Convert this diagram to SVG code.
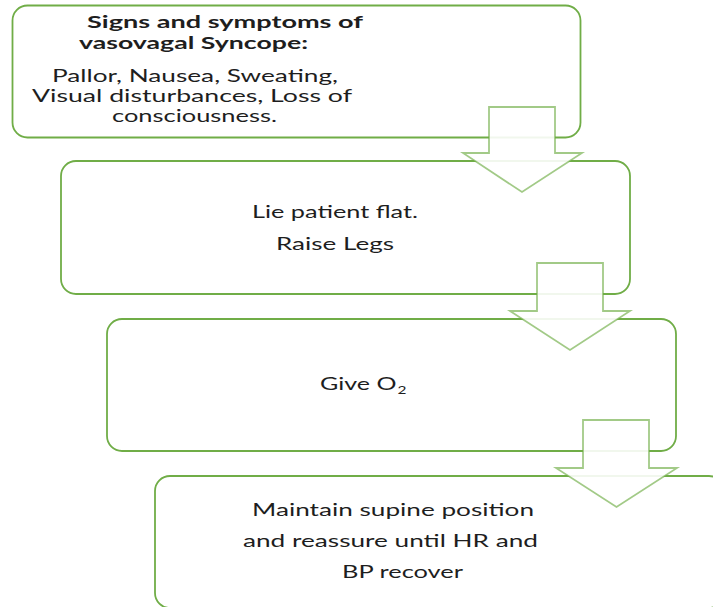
<svg xmlns="http://www.w3.org/2000/svg" width="713" height="607" viewBox="0 0 713 607">
<style>
.box{fill:#ffffff;stroke:#70ad47;stroke-width:1.8}
.arr{fill:#ffffff;fill-opacity:0.9;stroke:#70ad47;stroke-opacity:0.65;stroke-width:1.8;stroke-linejoin:miter}
text{font-family:Lato,"Open Sans","Liberation Sans",sans-serif;font-size:17px;fill:#1e1e1e}
.b{font-weight:bold}
</style>
<rect width="713" height="607" fill="#ffffff"/>
<g id="node1">
<rect class="box" x="12.5" y="5.5" width="568" height="132" rx="15"/>
<text class="b" x="87" y="28" textLength="276" lengthAdjust="spacingAndGlyphs">Signs and symptoms of</text>
<text class="b" x="79" y="49" textLength="229" lengthAdjust="spacingAndGlyphs">vasovagal Syncope:</text>
<text x="52" y="82" textLength="286" lengthAdjust="spacingAndGlyphs">Pallor, Nausea, Sweating,</text>
<text x="32" y="102" textLength="320" lengthAdjust="spacingAndGlyphs">Visual disturbances, Loss of</text>
<text x="112" y="122" textLength="165" lengthAdjust="spacingAndGlyphs">consciousness.</text>
</g>
<g id="node2">
<rect class="box" x="61" y="161" width="569" height="133" rx="15"/>
<text x="252" y="218" textLength="166" lengthAdjust="spacingAndGlyphs">Lie patient flat.</text>
<text x="276" y="250" textLength="118" lengthAdjust="spacingAndGlyphs">Raise Legs</text>
</g>
<g id="node3">
<rect class="box" x="107" y="319" width="569" height="132" rx="15"/>
<text x="320" y="390" textLength="50" lengthAdjust="spacingAndGlyphs">Give</text>
<text x="376.5" y="390" textLength="20" lengthAdjust="spacingAndGlyphs">O</text>
<text x="397.5" y="394" font-size="12" style="font-size:12px" textLength="9" lengthAdjust="spacingAndGlyphs">2</text>
</g>
<g id="node4">
<rect class="box" x="155" y="476" width="569" height="132" rx="15"/>
<text x="252" y="516" textLength="282" lengthAdjust="spacingAndGlyphs">Maintain supine position</text>
<text x="243" y="547" textLength="295" lengthAdjust="spacingAndGlyphs">and reassure until HR and</text>
<text x="342" y="578" textLength="121" lengthAdjust="spacingAndGlyphs">BP recover</text>
</g>
<g id="connectors">
<path class="arr" d="M489,107 H555 V153 H582 L522,192 L463,153 H489 Z"/>
<path class="arr" d="M537,263 H603 V311 H630 L570,350 L510,311 H537 Z"/>
<path class="arr" d="M583,420 H649 V468 H677 L616.5,507 L556,468 H583 Z"/>
</g>
</svg>
